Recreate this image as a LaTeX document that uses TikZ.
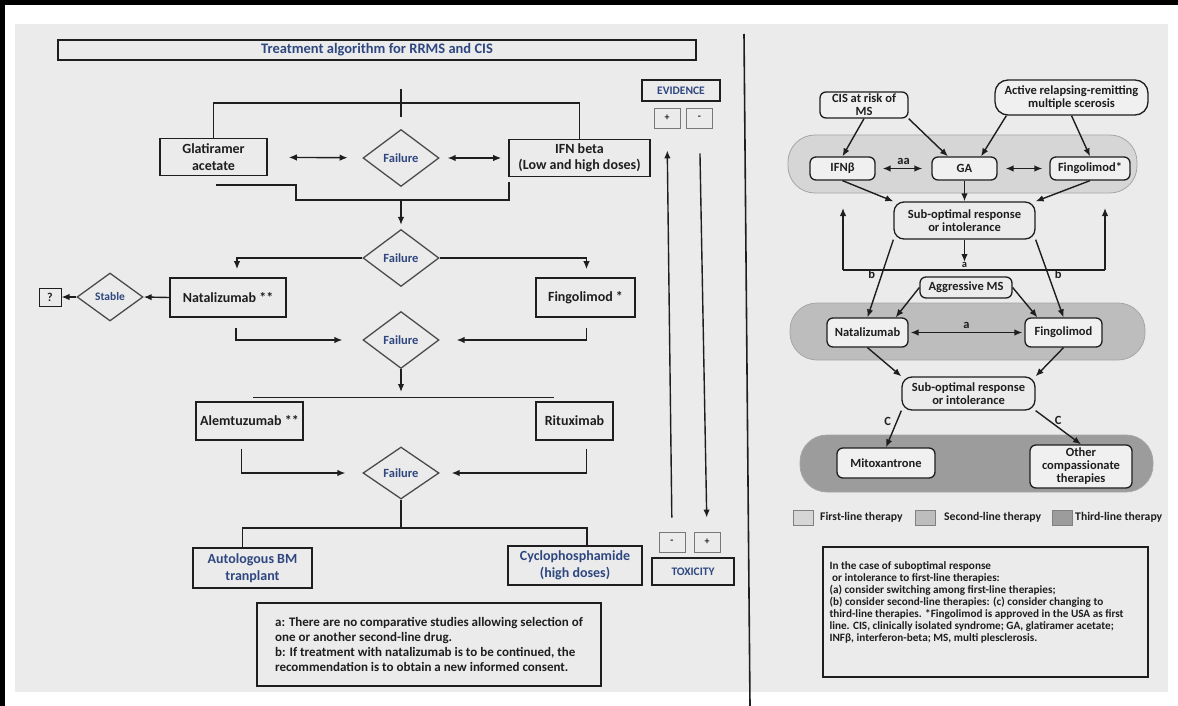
\documentclass[tikz,border=0pt]{standalone}
\usepackage{fontspec}
\setmainfont{Carlito}
\usetikzlibrary{shapes.geometric,calc,arrows.meta}
\definecolor{bgphoto}{HTML}{EBEBEB}
\definecolor{ink}{HTML}{1E1E1E}
\definecolor{navy}{HTML}{2E4780}
\definecolor{firstl}{HTML}{D6D6D6}
\definecolor{secondl}{HTML}{BDBDBD}
\definecolor{thirdl}{HTML}{9C9C9C}
\definecolor{boxfill}{HTML}{F0F0F0}

\begin{document}
\begin{tikzpicture}[
		x=1pt, y=-1pt,
		box/.style={rectangle, draw=ink, line width=1.6pt, inner sep=1pt, align=center, text=ink, font=\bfseries\fontsize{14}{16.5}\selectfont},
		bluebox/.style={box, text=navy},
		dia/.style={diamond, draw=ink!80, line width=1.3pt, inner sep=0pt, minimum width=76pt, minimum height=57pt, text=navy, font=\bfseries\fontsize{12.5}{13}\selectfont},
		tag/.style={rectangle, draw=ink!60, line width=0.9pt, minimum width=26pt, minimum height=20pt, inner sep=0pt, text=ink, font=\bfseries\fontsize{10}{10}\selectfont},
		rbox/.style={rectangle, rounded corners=6pt, draw=ink, line width=1.3pt, fill=boxfill, align=center, inner sep=1pt, text=ink, font=\bfseries\fontsize{12.5}{13}\selectfont},
		band/.style={rectangle, rounded corners=27pt, draw=gray!70, line width=0.8pt},
		key/.style={rectangle, draw=gray, line width=0.8pt, minimum width=20pt, minimum height=15pt, inner sep=0pt},
		keytxt/.style={anchor=west, inner sep=0pt, text=ink, font=\bfseries\fontsize{11.7}{12}\selectfont},
		arrow/.style={line width=1.4pt, draw=ink, -{Latex[length=8pt,width=6.5pt]}},
		darrow/.style={line width=1.4pt, draw=ink, {Latex[length=8pt,width=6.5pt]}-{Latex[length=8pt,width=6.5pt]}},
		lbl/.style={text=ink, inner sep=1pt, font=\bfseries\fontsize{12.5}{13}\selectfont}
	]
	\useasboundingbox (0,0) rectangle (1178,706);
	% Foto e cornice
	\fill[white] (0,0) rectangle (1178,706);
	\fill[bgphoto] (15,24) rectangle (1168,692);
	\fill[black] (0,0) rectangle (1178,5);
	\fill[black] (0,0) rectangle (5,706);
	\draw[ink, line width=1.6pt] (744,34) -- (750,706);

	% Algoritmo (sinistra)
	\node[box, text=navy, line width=1.1pt, inner sep=0pt, minimum width=638pt, minimum height=20pt, font=\bfseries\fontsize{14.5}{15}\selectfont] (title) at (377,50) {Treatment algorithm for RRMS and CIS};

	\node[box, minimum width=107pt, minimum height=37pt] (glat) at (213.5,157) {Glatiramer\\acetate};
	\node[dia] (fail1) at (401,158) {Failure};
	\node[box, minimum width=141pt, minimum height=37pt] (ifn) at (579.5,158) {IFN beta\\(Low and high doses)};

	\node[dia] (fail2) at (401,258) {Failure};
	\node[box, minimum width=116pt, minimum height=39pt] (nata) at (228,297.5) {Natalizumab **};
	\node[box, minimum width=99pt, minimum height=39pt] (fingo) at (585.5,297.5) {Fingolimod *};
	\node[dia, minimum width=66pt, minimum height=48pt, font=\bfseries\fontsize{11.5}{12}\selectfont] (stable) at (110,297) {Stable};
	\node[box, line width=1pt, minimum width=22pt, minimum height=18pt, inner sep=0pt, font=\bfseries\fontsize{12}{12}\selectfont] (unk) at (50,297) {?};

	\node[dia] (fail3) at (401,340) {Failure};
	\node[box, minimum width=107pt, minimum height=38pt] (alem) at (249.5,421) {Alemtuzumab **};
	\node[box, minimum width=77pt, minimum height=38pt] (ritu) at (574.5,421) {Rituximab};

	\node[dia, minimum height=52pt] (fail4) at (401,473) {Failure};
	\node[bluebox, minimum width=119pt, minimum height=40pt] (auto) at (252.5,568) {Autologous BM\\tranplant};
	\node[bluebox, minimum width=134pt, minimum height=39pt] (cyclo) at (575,565.5) {Cyclophosphamide\\(high doses)};

	\node[box, align=left, minimum width=344pt, minimum height=83pt, font=\bfseries\fontsize{13}{15}\selectfont] (lnote) at (429,644.5)
		{a: There are no comparative studies allowing selection of\\one or another second-line drug.\\b: If treatment with natalizumab is to be continued, the\\recommendation is to obtain a new informed consent.};

	% Evidenza / tossicita
	\node[box, text=navy, line width=1.1pt, inner sep=0pt, minimum width=78pt, minimum height=21pt, font=\bfseries\fontsize{11.5}{12}\selectfont] (evid) at (681,90.5) {EVIDENCE};
	\node[tag] (evplus) at (667,118) {+};
	\node[tag] (evminus) at (699.5,118) {-};
	\node[tag] (txminus) at (672,542) {-};
	\node[tag] (txplus) at (707,542) {+};
	\node[box, text=navy, line width=1.1pt, inner sep=0pt, minimum width=82pt, minimum height=27pt, font=\bfseries\fontsize{11.5}{12}\selectfont] (toxic) at (693,571.5) {TOXICITY};

	% Frecce (sinistra)
	\coordinate (topc) at (401,103);
	\draw[ink, line width=1.4pt] (glat.north) |- (topc) -| (ifn.north);
	\draw[ink, line width=1.4pt] ($(topc)+(0,-14)$) -- ($(topc)+(0,14)$);
	\draw[darrow, shorten <=21pt, shorten >=15pt] (glat) -- (fail1);
	\draw[darrow, shorten <=8pt, shorten >=7pt] (fail1) -- (ifn);

	\coordinate (st1) at (216,185);
	\coordinate (st2) at (509,182);
	\coordinate (j1) at (401,200);
	\draw[ink, line width=1.4pt] (st1) -- ++(80,0) -- ++(0,15) -| (st2);
	\draw[arrow, shorten >=4pt] (j1) -- (fail2.north);

	\draw[arrow, shorten >=8pt] (fail2.west) -| ($(nata.north)+(9,0)$);
	\draw[arrow, shorten >=8pt] (fail2.east) -| ($(fingo.north)+(1,0)$);
	\draw[arrow] (nata.west) -- (stable.east);
	\draw[arrow] (stable.west) -- (unk.east);

	\draw[arrow, shorten >=20pt] ($(nata.south)+(8,10)$) |- (fail3.west);
	\draw[arrow, shorten >=17pt] ($(fingo.south)+(1,10)$) |- (fail3.east);

	\coordinate (br2) at (401,398);
	\draw[arrow, shorten >=6pt] (fail3.south) -- (br2);
	\draw[ink, line width=1.4pt] ($(alem.north west)+(58,-4)$) -- ($(ritu.north west)+(19,-4)$);

	\draw[arrow, shorten >=17pt] ($(alem.south)+(-8,8)$) |- (fail4.west);
	\draw[arrow, shorten >=12pt] ($(ritu.south)+(12,8)$) |- (fail4.east);

	\coordinate (j4) at (401,528);
	\draw[ink, line width=1.4pt] (fail4.south) -- (j4);
	\draw[ink, line width=1.4pt] ($(auto.north)+(-10,0)$) |- (j4) -| ($(cyclo.north)+(12,0)$);

	\draw[arrow, shorten <=14pt, shorten >=22pt] (txminus.north) -- (evplus.south);
	\draw[arrow, shorten <=25pt, shorten >=14pt] (evminus.south) -- (txplus.north);

	% Schema (destra)
	\node[band, fill=firstl, minimum width=349pt, minimum height=58pt] (line1) at (962.5,164) {};
	\node[band, fill=secondl, minimum width=355pt, minimum height=57pt] (line2) at (967.5,331.5) {};
	\node[band, fill=thirdl, minimum width=353pt, minimum height=57pt] (line3) at (976.5,463.5) {};

	\node[rbox, minimum width=88pt, minimum height=26pt] (cis) at (864,105) {CIS at risk of\\MS};
	\node[rbox, rounded corners=13pt, minimum width=153pt, minimum height=35pt] (act) at (1071.5,97.5) {Active relapsing-remitting\\multiple scerosis};

	\node[rbox, minimum width=65pt, minimum height=23pt] (ifnb) at (842.5,168.5) {IFNβ};
	\node[rbox, minimum width=65pt, minimum height=23pt] (ga) at (964.5,168.5) {GA};
	\node[rbox, minimum width=80pt, minimum height=23pt] (fingf) at (1090,168.5) {Fingolimod*};

	\node[rbox, rounded corners=10pt, fill=bgphoto, minimum width=141pt, minimum height=37pt] (sub1) at (964.5,220.5) {Sub-optimal response\\or intolerance};
	\node[rbox, fill=bgphoto, minimum width=92pt, minimum height=21pt] (aggr) at (966,287.5) {Aggressive MS};

	\node[rbox, minimum width=81pt, minimum height=29pt] (natr) at (867.5,332.5) {Natalizumab};
	\node[rbox, minimum width=77pt, minimum height=29pt] (fingr) at (1063.5,332.5) {Fingolimod};

	\node[rbox, rounded corners=10pt, fill=bgphoto, minimum width=133pt, minimum height=33pt] (sub2) at (968.5,393.5) {Sub-optimal response\\or intolerance};

	\node[rbox, minimum width=98pt, minimum height=30pt] (mito) at (886,463) {Mitoxantrone};
	\node[rbox, minimum width=102pt, minimum height=43pt] (other) at (1081,466.5) {Other\\compassionate\\therapies};

	% Legenda
	\node[key, fill=firstl] (key1) at (803,517.5) {};
	\node[keytxt] (keytxt1) at (820,517.5) {First-line therapy};
	\node[key, fill=secondl] (key2) at (925,517.5) {};
	\node[keytxt] (keytxt2) at (944,517.5) {Second-line therapy};
	\node[key, fill=thirdl] (key3) at (1062,517.5) {};
	\node[keytxt] (keytxt3) at (1075,517.5) {Third-line therapy};

	\node[rectangle, draw=ink, line width=1.3pt, minimum width=325pt, minimum height=130pt] (rnote) at (985.5,612) {};
	\node[anchor=north west, align=left, inner sep=0pt, text=ink, font=\bfseries\fontsize{11.2}{12}\selectfont] (rnotetxt) at ($(rnote.north west)+(7,15)$)
		{In the case of suboptimal response\\\ or intolerance to first-line therapies:\\(a) consider switching among first-line therapies;\\(b) consider second-line therapies: (c) consider changing to\\third-line therapies. *Fingolimod is approved in the USA as first\\line. CIS, clinically isolated syndrome; GA, glatiramer acetate;\\INFβ, interferon-beta; MS, multi plesclerosis.};

	% Frecce (destra)
	\draw[arrow] (cis.south) -- (ifnb.north);
	\draw[arrow] (cis.south east) -- ($(ga.north)!0.5!(ga.north west)$);
	\draw[arrow] ($(act.south west)+(12,0)$) -- ($(ga.north)!0.5!(ga.north east)$);
	\draw[arrow] (act.south) -- (fingf.north);
	\draw[darrow, shorten <=7pt, shorten >=9pt] (ifnb) -- node[lbl, above=2pt] {aa} (ga);
	\draw[darrow, shorten <=8pt, shorten >=7pt] (ga) -- (fingf);

	\draw[arrow] (ifnb.south) -- (sub1.north west);
	\draw[arrow] (ga.south) -- (sub1.north);
	\draw[arrow] (fingf.south) -- (sub1.north east);

	\coordinate (fb) at (964.5,270);
	\coordinate (fbl) at (843,270);
	\coordinate (fbr) at (1105,270);
	\coordinate (upl) at (843,208);
	\coordinate (upr) at (1105,208);
	\draw[arrow, shorten >=8pt] (sub1.south) -- (fb);
	\draw[ink, line width=1.4pt] (fbl) -- (fbr);
	\draw[arrow] (fbl) -- (upl);
	\draw[arrow] (fbr) -- (upr);
	\node[lbl, font=\bfseries\fontsize{10.5}{11}\selectfont] (alab) at (964.5,265) {a};

	\draw[arrow] (sub1.south west) -- node[lbl, pos=0.45, left=5pt] {b} (natr.north);
	\draw[arrow] (sub1.south east) -- node[lbl, pos=0.45, right=5pt] {b} (fingr.north);
	\draw[arrow] (aggr.west) -- ($(natr.north east)+(-13,0)$);
	\draw[arrow] (aggr.east) -- ($(fingr.north west)+(13,0)$);
	\draw[darrow, shorten <=2pt, shorten >=2pt] (natr) -- node[lbl, above=2pt] {a} (fingr);

	\draw[arrow] (natr.south) -- (sub2.north west);
	\draw[arrow] (fingr.south) -- (sub2.north east);
	\draw[arrow] (sub2.south west) -- node[lbl, pos=0.3, left=4pt] {C} (mito.north);
	\draw[arrow] (sub2.south east) -- node[lbl, pos=0.3, right=4pt] {C} (other.north);
\end{tikzpicture}
\end{document}
